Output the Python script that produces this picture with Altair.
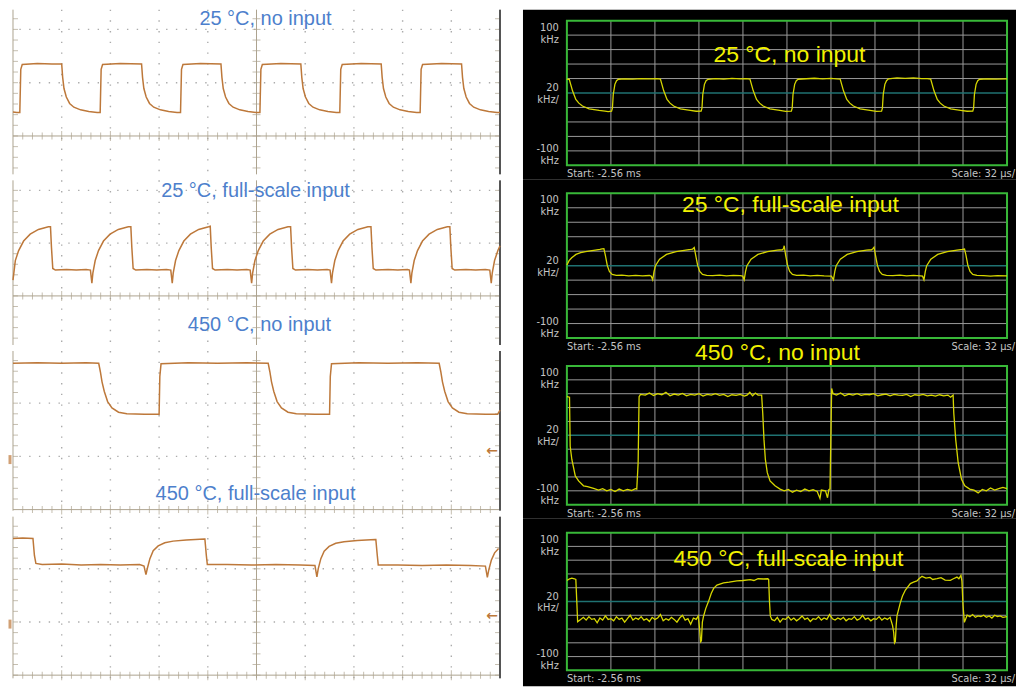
import altair as alt
import numpy as np
import pandas as pd

# ---------------- text ----------------
TITLE_1 = "25 °C, no input"
TITLE_2 = "25 °C, full-scale input"
TITLE_3 = "450 °C, no input"
TITLE_4 = "450 °C, full-scale input"
Y_LABEL_TOP = "100\nkHz"
Y_LABEL_MID = "20\nkHz/"
Y_LABEL_BOT = "-100\nkHz"
START_LABEL = "Start: -2.56 ms"
SCALE_LABEL = "Scale: 32 µs/"
ARROW = "←"

# ---------------- left oscilloscope traces ----------------
# (x in horizontal divisions 0-10, y in vertical divisions above the reference line)
L1 = [
    (0, 0.45), (0.08, 0.44), (0.14, 0.44), (0.16, 1.25), (0.19, 1.34), (0.5, 1.36), (0.8, 1.35), (1.0, 1.35),
    (1.02, 1.10), (1.047, 0.89), (1.095, 0.73), (1.163, 0.61), (1.25, 0.54), (1.387, 0.49), (1.556, 0.46), (1.727, 0.44), (1.79, 0.44),
    (1.81, 1.25), (1.84, 1.34), (2.2, 1.36), (2.64, 1.35),
    (2.66, 1.10), (2.687, 0.89), (2.735, 0.73), (2.803, 0.61), (2.89, 0.54), (3.027, 0.49), (3.196, 0.46), (3.367, 0.44), (3.44, 0.44),
    (3.46, 1.25), (3.49, 1.34), (3.85, 1.36), (4.27, 1.35),
    (4.29, 1.10), (4.317, 0.89), (4.365, 0.73), (4.433, 0.61), (4.52, 0.54), (4.657, 0.49), (4.826, 0.46), (4.997, 0.44), (5.07, 0.44),
    (5.09, 1.25), (5.12, 1.34), (5.5, 1.36), (5.91, 1.35),
    (5.93, 1.10), (5.957, 0.89), (6.005, 0.73), (6.073, 0.61), (6.16, 0.54), (6.297, 0.49), (6.466, 0.46), (6.637, 0.44), (6.71, 0.44),
    (6.73, 1.25), (6.76, 1.34), (7.15, 1.36), (7.56, 1.35),
    (7.58, 1.10), (7.607, 0.89), (7.655, 0.73), (7.723, 0.61), (7.81, 0.54), (7.947, 0.49), (8.116, 0.46), (8.287, 0.44), (8.36, 0.44),
    (8.38, 1.25), (8.41, 1.34), (8.8, 1.36), (9.21, 1.35),
    (9.23, 1.10), (9.257, 0.89), (9.305, 0.73), (9.373, 0.61), (9.46, 0.54), (9.597, 0.49), (9.766, 0.46), (9.937, 0.44), (10, 0.44),
]
L2 = [
    (0, 0.30), (0.048, 0.67), (0.116, 0.86), (0.218, 1.04), (0.353, 1.17), (0.523, 1.26), (0.727, 1.31), (0.77, 1.31),
    (0.79, 0.92), (0.817, 0.52), (0.87, 0.49), (1.1, 0.5), (1.3, 0.49), (1.5, 0.5), (1.59, 0.49), (1.62, 0.24),
    (1.64, 0.43), (1.688, 0.67), (1.756, 0.86), (1.858, 1.04), (1.993, 1.17), (2.163, 1.26), (2.367, 1.31), (2.42, 1.31),
    (2.44, 0.92), (2.467, 0.52), (2.52, 0.49), (2.75, 0.5), (2.95, 0.49), (3.15, 0.5), (3.24, 0.49), (3.27, 0.24),
    (3.29, 0.43), (3.338, 0.67), (3.406, 0.86), (3.508, 1.04), (3.643, 1.17), (3.813, 1.26), (4.017, 1.31), (4.05, 1.32),
    (4.07, 0.92), (4.097, 0.52), (4.15, 0.49), (4.4, 0.5), (4.6, 0.49), (4.8, 0.5), (4.87, 0.49), (4.90, 0.24),
    (4.92, 0.43), (4.968, 0.67), (5.036, 0.86), (5.138, 1.04), (5.273, 1.17), (5.443, 1.26), (5.647, 1.31), (5.70, 1.31),
    (5.72, 0.92), (5.747, 0.52), (5.8, 0.49), (6.05, 0.5), (6.25, 0.49), (6.45, 0.5), (6.51, 0.49), (6.54, 0.24),
    (6.56, 0.43), (6.608, 0.67), (6.676, 0.86), (6.778, 1.04), (6.913, 1.17), (7.083, 1.26), (7.287, 1.31), (7.35, 1.31),
    (7.37, 0.92), (7.397, 0.52), (7.45, 0.49), (7.7, 0.5), (7.9, 0.49), (8.1, 0.5), (8.14, 0.49), (8.17, 0.24),
    (8.19, 0.43), (8.238, 0.67), (8.306, 0.86), (8.408, 1.04), (8.543, 1.17), (8.713, 1.26), (8.917, 1.31), (8.97, 1.31),
    (8.99, 0.92), (9.017, 0.52), (9.07, 0.49), (9.3, 0.5), (9.5, 0.49), (9.7, 0.5), (9.79, 0.49), (9.82, 0.24),
    (9.84, 0.43), (9.888, 0.67), (9.956, 0.86), (10, 0.95),
]
L3 = [
    (0, 2.75), (0.5, 2.76), (1.0, 2.75), (1.5, 2.76), (1.76, 2.75),
    (1.794, 2.59), (1.828, 2.40), (1.875, 2.22), (1.943, 2.03), (2.032, 1.91), (2.167, 1.83), (2.337, 1.80), (2.7, 1.79), (3.0, 1.79),
    (3.015, 2.5), (3.04, 2.74), (3.6, 2.76), (4.2, 2.75), (4.8, 2.76), (5.24, 2.75),
    (5.274, 2.59), (5.308, 2.40), (5.355, 2.22), (5.423, 2.03), (5.512, 1.91), (5.647, 1.83), (5.817, 1.80), (6.2, 1.79), (6.5, 1.79),
    (6.515, 2.5), (6.54, 2.74), (7.1, 2.76), (7.7, 2.75), (8.3, 2.76), (8.75, 2.75),
    (8.784, 2.59), (8.818, 2.40), (8.865, 2.22), (8.933, 2.03), (9.022, 1.91), (9.157, 1.83), (9.327, 1.80), (9.7, 1.79), (9.95, 1.79), (10, 1.87),
]
L4 = [
    (0, 2.57), (0.2, 2.58), (0.41, 2.57), (0.44, 2.25), (0.47, 2.10), (0.6, 2.08), (1.0, 2.09), (1.4, 2.07), (1.8, 2.08),
    (2.2, 2.07), (2.6, 2.08), (2.69, 2.05), (2.73, 1.89),
    (2.757, 2.0), (2.811, 2.19), (2.879, 2.34), (2.981, 2.43), (3.117, 2.49), (3.287, 2.52), (3.558, 2.54), (3.93, 2.56),
    (3.94, 2.56), (3.97, 2.25), (3.99, 2.08), (4.4, 2.08), (4.9, 2.07), (5.4, 2.08), (5.9, 2.07), (6.2, 2.06), (6.24, 1.85),
    (6.267, 2.0), (6.321, 2.19), (6.389, 2.33), (6.491, 2.42), (6.627, 2.48), (6.797, 2.51), (7.068, 2.53), (7.44, 2.55),
    (7.45, 2.55), (7.48, 2.25), (7.50, 2.07), (7.9, 2.07), (8.4, 2.06), (8.9, 2.07), (9.4, 2.06), (9.70, 2.05), (9.74, 1.84),
    (9.767, 1.97), (9.821, 2.16), (9.889, 2.30), (9.97, 2.38),
]

# ---------------- right analyzer traces ----------------
# (time from start in µs, frequency deviation in kHz)
R1 = [
    (0, 19.5), (0.8, 18.8), (1.7, 19.0), (4.1, 3), (6.5, -9), (8.7, -14), (11.3, -18), (16.2, -22), (23.4, -24),
    (27.7, -25), (30.0, -25.6), (32.5, -25), (33.1, -21), (33.7, -2), (34.9, 12), (36.1, 17), (37.5, 19),
    (42, 19.6), (48, 19.2), (54, 20.0), (60, 19.4), (65, 19.8), (68.0, 19.2),
    (70.4, 3), (72.8, -9), (75.0, -14), (77.6, -18), (82.5, -22), (89.7, -24), (94, -25.2), (97.6, -25),
    (98.2, -21), (98.8, -2), (100.0, 12), (101.2, 17), (102.6, 19), (108, 19.8), (114, 19.3), (120, 20.2), (126, 19.5), (130, 19.9), (133.1, 19.2),
    (135.5, 3), (137.9, -9), (140.1, -14), (142.7, -18), (147.6, -22), (154.8, -24), (159, -25.5), (163.2, -25),
    (163.8, -21), (164.4, -2), (165.6, 12), (166.8, 17), (168.2, 19), (174, 19.7), (180, 20.4), (186, 19.6), (192, 20.1), (196, 19.5), (198.7, 19.3),
    (201.1, 3), (203.5, -9), (205.7, -14), (208.3, -18), (213.2, -22), (220.4, -24), (225, -25.3), (228.8, -25),
    (229.4, -21), (230.0, -2), (231.2, 12), (232.4, 17), (233.8, 19.5), (240, 20.8), (246, 20.2), (252, 21), (258, 20.0), (262, 19.8), (264.5, 19.3),
    (266.9, 3), (269.3, -9), (271.5, -14), (274.1, -18), (279.0, -22), (286.2, -24), (291, -25.2), (295.1, -25),
    (295.7, -21), (296.3, -2), (297.5, 12), (298.7, 17), (300.1, 19), (306, 19.6), (312, 19.3), (320, 19.5),
]
R2 = [
    (0, 1), (1.6, 7), (3.5, 11), (6.6, 15.5), (10, 18), (13.6, 19.5), (17, 20.5), (20.6, 21.5), (24, 22.5), (25.6, 23.2), (26.9, 23.5),
    (27.9, 15), (29.4, 0), (30.9, -8), (32.9, -12), (35.9, -13.5), (40, -13.2), (45, -14), (50, -13.4), (55, -14.2), (60, -13.6), (61.4, -14.5), (62.4, -19.5),
    (63.4, -8), (64.4, 0), (67.4, 9), (72.4, 15.5), (79.4, 19.5), (86.4, 21.5), (90, 22.5), (91.4, 23), (92.6, 25),
    (93.6, 15), (95.1, 0), (96.6, -8), (98.6, -12), (101.6, -13.5), (106, -13.8), (111, -13.2), (116, -14.1), (121, -13.5), (126, -13.9), (127.9, -14.5), (128.9, -19.5),
    (129.9, -8), (130.9, 0), (133.9, 9), (138.9, 15.5), (145.9, 19.5), (152.9, 21.5), (156.5, 22), (157.5, 23.5), (158.0, 27.5),
    (159.0, 15), (160.5, 0), (162, -8), (164, -12), (167, -13.5), (172, -13.2), (177, -14), (182, -13.5), (187, -14.2), (192.3, -14.5), (193.8, -19.5),
    (194.8, -8), (195.8, 0), (198.8, 9), (203.8, 15.5), (210.8, 19.5), (217.8, 21.5), (221.5, 22), (222.5, 23.5), (223.3, 25.5),
    (224.3, 15), (225.8, 0), (227.3, -8), (229.3, -12), (232.3, -13.5), (237, -13.8), (242, -13.2), (247, -14.2), (252, -13.4), (257, -14), (258.6, -14.5), (259.6, -19.5),
    (260.6, -8), (261.6, 0), (264.6, 9), (269.6, 15.5), (276.6, 19.5), (283.6, 21.5), (287.5, 22.5), (289.1, 23),
    (290.1, 15), (291.6, 0), (293.1, -8), (295.1, -12), (298.1, -13.5), (303, -13.8), (308, -14.5), (313, -13.8), (320, -14.2),
]
R3 = [
    (0, 55.7), (1.9, 55), (2.4, -15.7), (3.6, -34.8), (6.1, -58.5), (8.5, -65.7), (12.1, -72.8), (15, -74), (19.4, -76.6),
    (23, -79), (26, -77), (29, -80), (32, -78), (35, -81), (38, -77.5), (41, -80), (44, -78), (47, -79.5), (49.8, -77), (50.8, -77.5),
    (51.8, -39.5), (52.5, 55.7), (53.5, 59), (57, 58), (60, 61), (63, 57.5), (66, 60), (69, 58.5), (72, 62), (75, 57), (78, 59.5),
    (81, 58), (84, 60.5), (87, 57), (90, 59), (93, 58), (96, 60), (99, 56.5), (102, 59), (105, 58), (108, 60), (111, 57.5),
    (114, 59), (117, 56), (120, 58.5), (123, 57.5), (126, 59), (129, 56.5), (131, 58), (133, 62), (135, 57), (137, 61), (139, 58), (141.6, 58),
    (142.4, 31.9), (143.3, -6.2), (144.3, -34.8), (145.7, -53.8), (147.7, -65.7), (151.3, -72.8), (155, -77.6), (158, -80), (161, -78),
    (164, -82), (167, -79), (170, -81), (173, -77.5), (176, -80), (179, -78.5), (182, -81), (184, -91), (185, -79), (188, -80),
    (189.5, -90), (190.5, -78), (191.3, -77.5), (192.5, 67.6), (193.5, 60), (196, 58), (199, 61), (202, 57), (205, 59.5), (208, 58),
    (211, 60), (214, 57.5), (217, 59), (220, 58.5), (223, 60), (226, 57), (229, 58.5), (232, 59.5), (235, 57), (238, 59), (241, 58),
    (244, 57.5), (247, 59), (250, 56), (253, 58.5), (256, 57.5), (259, 59), (262, 57), (265, 58), (268, 56.5), (271, 58.5), (274, 57),
    (277, 58), (279, 55), (280.8, 58), (281.3, 31.9), (282.7, -6.2), (284.5, -39.5), (286.9, -63.3), (289.3, -72.8), (292.9, -77.6),
    (296, -79), (299, -83), (302, -78), (305, -80), (308, -76), (311, -79), (314, -77), (317, -75), (320, -77),
]
R4 = [
    (0, 31), (0.5, 31), (2, 33), (3.6, 34), (5.5, 33), (6.5, 32), (7.2, 0), (7.8, -29.4), (10, -26), (12, -23), (14, -27), (16, -22),
    (18, -26), (20, -25), (22, -31), (24, -24), (26, -27), (28, -21), (30, -26), (32, -25), (34, -28), (36, -22), (38, -26), (40, -24),
    (42, -30), (44, -25), (46, -20), (48, -27), (50, -24), (52, -26), (54, -22), (56, -27), (58, -25), (60, -29), (62, -23), (64, -26),
    (66, -24), (68, -19), (70, -28), (72, -25), (74, -27), (76, -23), (78, -26), (80, -30), (82, -24), (84, -20), (86, -27), (88, -25),
    (90, -33), (92, -24), (94, -26), (95.5, -21), (96.5, -40), (97.2, -58.6), (97.8, -57), (98.5, -30), (99.4, -21), (101, -10),
    (103, 0.2), (105, 12), (106.7, 19), (109.1, 23.8), (113.9, 27), (118, 28), (123.6, 29.9), (128, 30.5), (133.3, 31.8), (136, 30.5),
    (139, 33), (143, 32.7), (146, 33), (146.7, 32), (147.3, 0), (147.9, -21), (149, -26), (151, -28), (153, -23), (155, -30), (157, -25),
    (159, -26), (161, -22), (163, -27), (165, -24), (167, -28), (169, -25), (171, -21), (173, -26), (175, -24), (177, -29), (179, -25),
    (181, -26), (183, -22), (185, -27), (187, -24), (189, -26), (191, -19), (193, -25), (195, -27), (197, -24), (199, -26), (201, -23),
    (203, -28), (205, -25), (207, -26), (209, -22), (211, -27), (213, -25), (215, -20), (217, -26), (219, -24), (221, -28), (223, -25),
    (225, -26), (227, -22), (229, -27), (231, -24), (233, -26), (235, -23), (236.8, -35), (237.6, -45), (238.2, -60), (238.8, -58),
    (239.4, -35), (240, -21), (242.4, -2), (244, 8), (246.1, 16.7), (249.7, 26), (252, 28), (254.5, 29.9), (256, 33), (258.2, 36.5),
    (261, 34), (264, 35), (266, 32), (269.1, 33.2), (272, 34.5), (275, 31), (278.8, 30.8), (281, 33), (283.6, 35.5), (285, 33),
    (286.5, 37.9), (287.2, 30), (288, -5), (289, -30.3), (291, -20), (293, -22), (295, -19), (297, -23), (299, -21), (301, -22),
    (303, -20), (305, -23), (307, -21), (309, -24), (311, -20), (313, -22), (315, -21), (317, -23), (320, -22),
]

# graticule definitions
LEFT_X_DIVS = [0, 10]
RIGHT_TIME_US = [0, 320]
RIGHT_FREQ_KHZ = [-100, 100]

# ---------------- styles ----------------
SANS = "Liberation Sans"
SMALL = "Liberation Sans Narrow, DejaVu Sans Condensed, Liberation Sans, sans-serif"
ORANGE = "#bd783a"
BLUE = "#4d7fcc"
TAN = "#ada38f"
DOT = "#ababab"
YELLOW = "#d6d600"
YELLOW_T = "#f2f200"
GREEN = "#38b838"
GRID = "#9a9a9a"
TEAL = "#1f7272"
LABEL = "#c4c4c4"
LW = 488
RW = 441


def frange(lo, hi, step=0.2):
    k0 = int(np.ceil(lo / step - 1e-9))
    k1 = int(np.floor(hi / step + 1e-9))
    return [round(k * step, 3) for k in range(k0, k1 + 1)]


def left_panel(trace, ydom, h, titles, marker=None):
    xs = alt.Scale(domain=LEFT_X_DIVS, nice=False, zero=False)
    ys = alt.Scale(domain=ydom, nice=False, zero=False)

    def X(f):
        return alt.X(f, type="quantitative", scale=xs, axis=None)

    def Y(f):
        return alt.Y(f, type="quantitative", scale=ys, axis=None)

    layers = []
    vg = pd.DataFrame({"x": [1, 2, 3, 4, 6, 7, 8, 9]})
    layers.append(alt.Chart(vg).mark_rule(color=DOT, strokeWidth=1.4, strokeDash=[1.4, 9.3]).encode(x=X("x")))
    hg = pd.DataFrame({"y": [v for v in [1, 2] if ydom[0] < v < ydom[1]]})
    layers.append(alt.Chart(hg).mark_rule(color=DOT, strokeWidth=1.4, strokeDash=[1.4, 8.4]).encode(y=Y("y")))
    layers.append(alt.Chart(pd.DataFrame({"x": [5]})).mark_rule(color=TAN, strokeWidth=1).encode(x=X("x")))
    layers.append(alt.Chart(pd.DataFrame({"y": [0]})).mark_rule(color=TAN, strokeWidth=1).encode(y=Y("y")))
    tx = frange(0.2, 9.8)
    dfx = pd.DataFrame({"x": tx, "y": 0, "s": [10 if abs(v - round(v)) < 1e-6 else 7 for v in tx]})
    layers.append(alt.Chart(dfx).mark_tick(orient="vertical", color=TAN, thickness=1).encode(
        x=X("x"), y=Y("y"), size=alt.Size("s:Q", scale=None, legend=None)))
    ty = frange(ydom[0] + 0.05, ydom[1] - 0.05)
    dfy = pd.DataFrame({"y": ty, "x": 5})
    layers.append(alt.Chart(dfy).mark_tick(orient="horizontal", color=TAN, thickness=1, size=8).encode(x=X("x"), y=Y("y")))
    dfl = pd.DataFrame({"y": ty, "x": 0})
    layers.append(alt.Chart(dfl).mark_tick(orient="horizontal", color=TAN, thickness=1, size=5, xOffset=2.5).encode(x=X("x"), y=Y("y")))
    dfr = pd.DataFrame({"y": ty, "x": 10})
    layers.append(alt.Chart(dfr).mark_tick(orient="horizontal", color=TAN, thickness=1, size=5, xOffset=-2.5).encode(x=X("x"), y=Y("y")))
    layers.append(alt.Chart(pd.DataFrame({"x": [0]})).mark_rule(color=TAN, strokeWidth=1).encode(x=X("x")))
    layers.append(alt.Chart(pd.DataFrame({"x": [10]})).mark_rule(color="#555555", strokeWidth=2).encode(x=X("x")))
    df = pd.DataFrame(trace, columns=["x", "y"])
    df["i"] = range(len(df))
    layers.append(alt.Chart(df).mark_line(color=ORANGE, strokeWidth=1.5).encode(x=X("x"), y=Y("y"), order="i:Q"))
    if marker is not None:
        g, a = marker
        layers.append(alt.Chart(pd.DataFrame({"x": [0], "y": [g]})).mark_tick(
            orient="vertical", color=ORANGE, thickness=3, size=9, xOffset=-3).encode(x=X("x"), y=Y("y")))
        layers.append(alt.Chart(pd.DataFrame({"x": [10], "y": [a], "t": [ARROW]})).mark_text(
            font="DejaVu Sans", fontSize=14, fontWeight="bold", color=ORANGE, align="right", baseline="middle", dx=-2).encode(
            x=X("x"), y=Y("y"), text="t:N"))
    for (t, px, py) in titles:
        layers.append(alt.Chart(pd.DataFrame({"t": [t]})).mark_text(
            font=SANS, fontSize=20, color=BLUE, align="center", baseline="middle").encode(
            x=alt.value(px), y=alt.value(py), text="t:N"))
    return alt.layer(*layers).properties(width=LW, height=h)


def right_panel(trace, h, top, bottom, title, tx, ty):
    xs = alt.Scale(domain=RIGHT_TIME_US, nice=False, zero=False)
    ys = alt.Scale(domain=RIGHT_FREQ_KHZ, range=[bottom, top], nice=False, zero=False)

    def X(f):
        return alt.X(f, type="quantitative", scale=xs, axis=None)

    def Y(f):
        return alt.Y(f, type="quantitative", scale=ys, axis=None)

    one = pd.DataFrame({"a": [0]})
    layers = []
    layers.append(alt.Chart(one).mark_rect(color="black").encode(
        x=alt.value(-44), x2=alt.value(RW + 9), y=alt.value(0), y2=alt.value(h)))
    vg = pd.DataFrame({"x": [32 * k for k in range(1, 10)], "y0": -100, "y1": 100})
    layers.append(alt.Chart(vg).mark_rule(color=GRID, strokeWidth=1).encode(x=X("x"), y=Y("y0"), y2="y1"))
    hg = pd.DataFrame({"y": [v for v in range(-80, 100, 20) if v != 0], "x0": 0, "x1": 320})
    layers.append(alt.Chart(hg).mark_rule(color=GRID, strokeWidth=1).encode(x=X("x0"), x2="x1", y=Y("y")))
    layers.append(alt.Chart(pd.DataFrame({"y": [0], "x0": [0], "x1": [320]})).mark_rule(
        color=TEAL, strokeWidth=1.5).encode(x=X("x0"), x2="x1", y=Y("y")))
    box = pd.DataFrame({"x0": [0], "x1": [320], "y0": [-100], "y1": [100]})
    layers.append(alt.Chart(box).mark_rect(fillOpacity=0, stroke=GREEN, strokeWidth=2).encode(
        x=X("x0"), x2="x1", y=Y("y0"), y2="y1"))
    df = pd.DataFrame(trace, columns=["x", "y"])
    df["i"] = range(len(df))
    layers.append(alt.Chart(df).mark_line(color=YELLOW, strokeWidth=1.3).encode(x=X("x"), y=Y("y"), order="i:Q"))
    lab = dict(font=SMALL, fontSize=11, color=LABEL, align="right", baseline="top", lineBreak="\n", lineHeight=12)
    layers.append(alt.Chart(pd.DataFrame({"t": [Y_LABEL_TOP]})).mark_text(**lab).encode(
        x=alt.value(-8), y=alt.value(top + 1), text="t:N"))
    layers.append(alt.Chart(pd.DataFrame({"t": [Y_LABEL_MID]})).mark_text(**lab).encode(
        x=alt.value(-8), y=alt.value((top + bottom) / 2 - 11), text="t:N"))
    layers.append(alt.Chart(pd.DataFrame({"t": [Y_LABEL_BOT]})).mark_text(**lab).encode(
        x=alt.value(-8), y=alt.value(bottom - 22), text="t:N"))
    layers.append(alt.Chart(pd.DataFrame({"t": [START_LABEL]})).mark_text(
        font=SMALL, fontSize=11, color=LABEL, align="left", baseline="middle").encode(
        x=alt.value(0), y=alt.value(bottom + 9), text="t:N"))
    layers.append(alt.Chart(pd.DataFrame({"t": [SCALE_LABEL]})).mark_text(
        font=SMALL, fontSize=11, color=LABEL, align="right", baseline="middle").encode(
        x=alt.value(RW + 8), y=alt.value(bottom + 9), text="t:N"))
    layers.append(alt.Chart(pd.DataFrame({"t": [title]})).mark_text(
        font=SANS, fontSize=23, color=YELLOW_T, align="center", baseline="middle").encode(
        x=alt.value(tx), y=alt.value(ty), text="t:N"))
    return alt.layer(*layers).properties(width=RW, height=h)


left = alt.vconcat(
    left_panel(L1, [-0.72, 2.37], 165, [(TITLE_1, 253, 9)]),
    left_panel(L2, [-0.93, 2.19], 165, [(TITLE_2, 243, 11), (TITLE_3, 247, 145)]),
    left_panel(L3, [-0.02, 2.98], 160, [(TITLE_4, 243, 143)], marker=(0.94, 1.11)),
    left_panel(L4, [-0.06, 2.98], 162, [], marker=(0.96, 1.11)),
    spacing=6, bounds="flush",
)

right = alt.vconcat(
    right_panel(R1, 170, 11, 156, TITLE_1, 223, 45),
    right_panel(R2, 173, 14, 159, TITLE_2, 224, 26),
    right_panel(R3, 167, 14, 153, TITLE_3, 211, 1),
    right_panel(R4, 168, 14, 152, TITLE_4, 222, 40),
    spacing=0, bounds="flush",
)

chart = alt.hconcat(left, right, spacing=20).configure_view(stroke=None).properties(
    background="white", padding=0)

chart.save("out.html", embed_options={"renderer": "svg", "actions": False})
